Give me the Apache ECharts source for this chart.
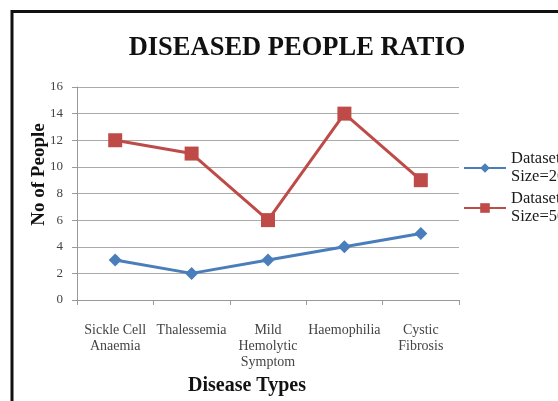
<!DOCTYPE html>
<html>
<head>
<meta charset="utf-8">
<script src="https://cdn.jsdelivr.net/npm/echarts@6/dist/echarts.min.js"></script>
<style>
html,body{margin:0;padding:0;background:#fff;}
#chart{width:558px;height:401px;}
</style>
</head>
<body>
<div id="chart"></div>
<script>
// Disease categories along the x axis
var categories = ['Sickle Cell\nAnaemia', 'Thalessemia', 'Mild\nHemolytic\nSymptom', 'Haemophilia', 'Cystic\nFibrosis'];
// Number of people per disease for each dataset
var dataset20 = [3, 2, 3, 4, 5];
var dataset50 = [12, 11, 6, 14, 9];
var seriesNames = ['Dataset\nSize=20', 'Dataset\nSize=50'];

var serif = '"Liberation Serif", "Times New Roman", serif';
var chart = echarts.init(document.getElementById('chart'));
chart.setOption({
  backgroundColor: '#fff',
  animation: false,
  title: {
    text: 'DISEASED PEOPLE RATIO',
    left: 292, top: 30, textAlign: 'center',
    textStyle: {fontFamily: serif, fontWeight: 'bold', fontSize: 26.5, color: '#111'}
  },
  graphic: [{
    type: 'polyline',
    shape: {points: [[12, 401], [12, 11.5], [558, 11.5]]},
    style: {stroke: '#111', lineWidth: 3, fill: null}
  }],
  legend: {
    orient: 'vertical', left: 463, top: 150, itemGap: 4, padding: 0,
    itemWidth: 42, itemHeight: 12,
    data: seriesNames,
    textStyle: {fontFamily: serif, fontSize: 16.5, color: '#1a1a1a', lineHeight: 18}
  },
  grid: {left: 77, right: 99, top: 87, bottom: 101},
  xAxis: {
    type: 'category', data: categories, boundaryGap: true,
    name: 'Disease Types', nameLocation: 'middle', nameGap: 76, nameMoveOverlap: false,
    nameTextStyle: {fontFamily: serif, fontWeight: 'bold', fontSize: 20, color: '#111', padding: [0, 42, 0, 0]},
    axisLine: {lineStyle: {color: '#999', width: 1}},
    axisTick: {show: true, length: 5, lineStyle: {color: '#999'}},
    axisLabel: {interval: 0, margin: 22, fontFamily: serif, fontSize: 14, color: '#444', lineHeight: 16}
  },
  yAxis: {
    type: 'value', min: 0, max: 16, interval: 2,
    name: 'No of People', nameLocation: 'middle', nameGap: 28, nameMoveOverlap: false,
    nameTextStyle: {fontFamily: serif, fontWeight: 'bold', fontSize: 19, color: '#111', padding: [0, 0, 0, 38]},
    axisLine: {show: true, lineStyle: {color: '#999', width: 1}},
    axisTick: {show: true, length: 5, lineStyle: {color: '#999'}},
    axisLabel: {margin: 14, fontFamily: serif, fontSize: 13, color: '#444'},
    splitLine: {lineStyle: {color: '#aaa', width: 1}}
  },
  series: [{
    name: seriesNames[0], type: 'line', data: dataset20,
    symbol: 'diamond', symbolSize: 13,
    lineStyle: {color: '#4A7EBB', width: 3},
    itemStyle: {color: '#4A7EBB'}
  }, {
    name: seriesNames[1], type: 'line', data: dataset50,
    symbol: 'rect', symbolSize: 14,
    lineStyle: {color: '#BE4B48', width: 3},
    itemStyle: {color: '#BE4B48'}
  }]
});
</script>
</body>
</html>
